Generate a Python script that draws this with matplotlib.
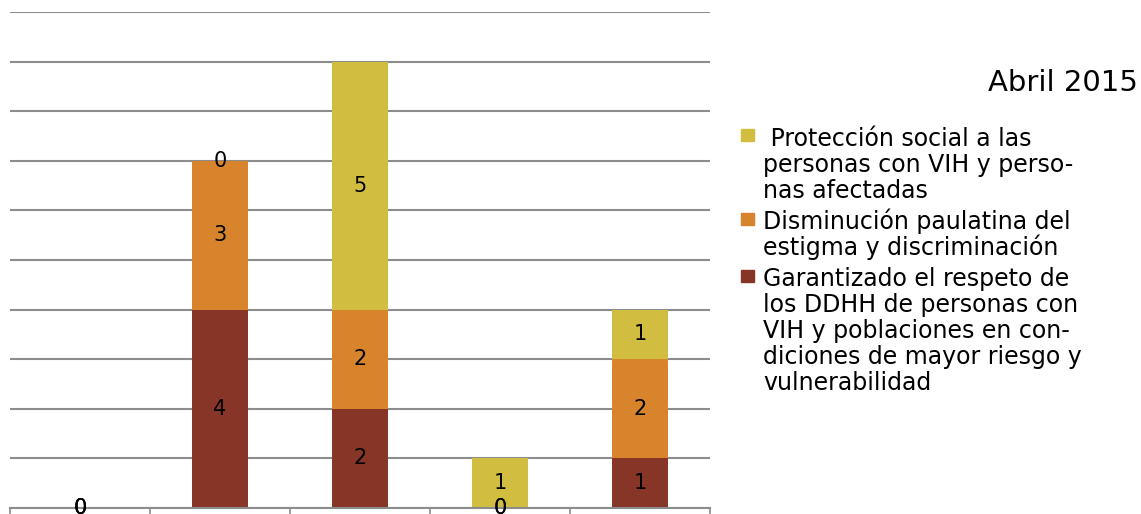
import numpy as np
import matplotlib.pyplot as plt
from matplotlib.patches import Rectangle

# values per line of action, one entry per group
garantizado = [0, 4, 2, 0, 1]
disminucion = [0, 3, 2, 0, 2]
proteccion = [0, 0, 5, 1, 1]

series_labels = [
    " Protección social a las\npersonas con VIH y perso-\nnas afectadas",
    "Disminución paulatina del\nestigma y discriminación",
    "Garantizado el respeto de\nlos DDHH de personas con\nVIH y poblaciones en con-\ndiciones de mayor riesgo y\nvulnerabilidad",
]
colors = ["#D1BE40", "#D7842C", "#873526"]
titulo = "Abril 2015"

W, H = 1141, 514
fig = plt.figure(figsize=(W / 100, H / 100), dpi=100)
ax = fig.add_axes([10 / W, 6 / H, 700 / W, 496 / H])

x = np.arange(len(garantizado))
b1 = ax.bar(x, garantizado, 0.4, color=colors[2])
b2 = ax.bar(x, disminucion, 0.4, bottom=garantizado, color=colors[1])
base3 = np.array(garantizado) + np.array(disminucion)
b3 = ax.bar(x, proteccion, 0.4, bottom=base3, color=colors[0])

for bars in (b1, b2, b3):
    ax.bar_label(bars, label_type="center", fontsize=15, color="black")

ax.set_xlim(-0.5, len(x) - 0.5)
ax.set_ylim(0, 10)
ax.set_yticks(np.arange(0, 11))
ax.yaxis.grid(True, color="#8c8c8c", linewidth=1.5)
ax.set_axisbelow(True)
ax.tick_params(axis="y", left=False, labelleft=False)
ax.set_xticks(np.arange(-0.5, len(x), 1.0))
ax.tick_params(axis="x", direction="out", length=12, color="#8c8c8c",
               width=1.2, labelbottom=False)
for s in ("left", "right", "top"):
    ax.spines[s].set_visible(False)
ax.spines["bottom"].set_color("#8c8c8c")
ax.spines["bottom"].set_linewidth(1.5)

fig.text(988 / W, 1 - 91 / H, titulo, fontsize=21, ha="left", va="baseline")

# legend drawn by hand: square marker + wrapped label, one text per line
marker_y = [135, 219, 276]
text_base = [146, 229, 286]
pitch = 26
for lab, col, ym, yb in zip(series_labels, colors, marker_y, text_base):
    fig.patches.append(Rectangle((741 / W, 1 - (ym + 6) / H), 13 / W, 12 / H,
                                 color=col, transform=fig.transFigure))
    for i, line in enumerate(lab.split("\n")):
        fig.text(763 / W, 1 - (yb + i * pitch) / H, line, fontsize=17,
                 ha="left", va="baseline")

fig.savefig("out.png", dpi=100)
